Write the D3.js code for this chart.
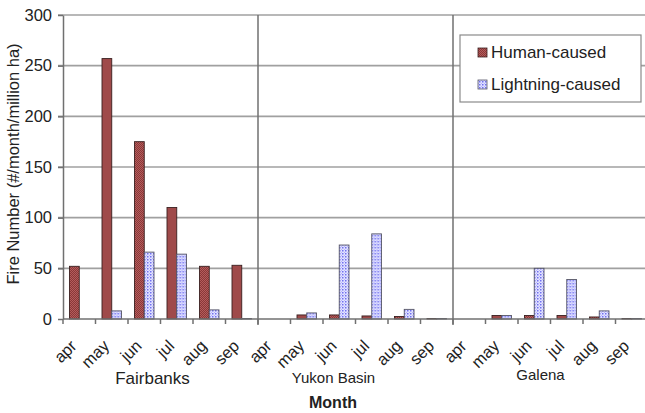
<!DOCTYPE html>
<html>
<head>
<meta charset="utf-8">
<script src="https://cdn.jsdelivr.net/npm/d3@7"></script>
<style>
  html, body { margin: 0; padding: 0; background: #fff; }
  svg { display: block; font-family: "Liberation Sans", Arial, sans-serif; }
</style>
</head>
<body>
<svg id="chart" width="645" height="413"></svg>
<script>
// ---- data ----
const regions = ["Fairbanks", "Yukon Basin", "Galena"];
const months = ["apr", "may", "jun", "jul", "aug", "sep"];
const humanFairbanks = [52, 257, 175, 110, 52, 53];
const humanYukon = [0, 4, 4, 3, 2.5, 0.5];
const humanGalena = [0, 3.5, 3.5, 3.5, 2, 0.5];
const lightningFairbanks = [0, 8, 66, 64, 9, 0.5];
const lightningYukon = [0, 6, 73, 84, 9.5, 0.5];
const lightningGalena = [0, 3.5, 50, 39, 8, 0.5];
const yTicks = [0, 50, 100, 150, 200, 250, 300];
const seriesNames = ["Human-caused", "Lightning-caused"];
const yTitle = "Fire Number (#/month/million ha)";
const xTitle = "Month";

(function () {
const humanAll = [humanFairbanks, humanYukon, humanGalena];
const lightningAll = [lightningFairbanks, lightningYukon, lightningGalena];

const rows = [];
regions.forEach((r, ri) => {
  months.forEach((m, mi) => {
    rows.push({ key: r + "-" + m, region: r, ri, month: m, human: humanAll[ri][mi], lightning: lightningAll[ri][mi] });
  });
});

// ---- layout ----
const svg = d3.select("#chart");
const pLeft = 63, pRight = 648, pTop = 15, pBottom = 319;

const x = d3.scaleBand().domain(rows.map(d => d.key)).range([pLeft, pRight]).paddingInner(0).paddingOuter(0);
const y = d3.scaleLinear().domain([0, 300]).range([pBottom, pTop]);
const sub = d3.scaleBand().domain(seriesNames).range([x.bandwidth() / 2 - 9.75, x.bandwidth() / 2 + 9.75]);

// patterns
const defs = svg.append("defs");
const ph = defs.append("pattern").attr("id", "pHuman").attr("patternUnits", "userSpaceOnUse").attr("width", 2).attr("height", 2);
ph.append("rect").attr("width", 2).attr("height", 2).attr("fill", "#b45c5c");
ph.append("rect").attr("width", 1).attr("height", 1).attr("fill", "#8a3838");
ph.append("rect").attr("x", 1).attr("y", 1).attr("width", 1).attr("height", 1).attr("fill", "#8a3838");
const pl = defs.append("pattern").attr("id", "pLight").attr("patternUnits", "userSpaceOnUse").attr("width", 3).attr("height", 3);
pl.append("rect").attr("width", 3).attr("height", 3).attr("fill", "#e0e0ff");
pl.append("rect").attr("x", 1).attr("y", 1).attr("width", 1.5).attr("height", 1.5).attr("fill", "#7070f0");
pl.append("rect").attr("x", 0).attr("y", 0).attr("width", 0.8).attr("height", 0.8).attr("fill", "#a0a0f8");

// gridlines
svg.append("g").selectAll("line").data(yTicks.filter(t => t > 0)).join("line")
  .attr("x1", 58).attr("x2", 645)
  .attr("y1", d => y(d)).attr("y2", d => y(d))
  .attr("stroke", "#a0a0a0").attr("stroke-width", 1.6);

// y axis
const yAxis = svg.append("g").attr("transform", `translate(${pLeft},0)`)
  .call(d3.axisLeft(y).tickValues(yTicks).tickSize(5).tickPadding(6).tickSizeOuter(0));
yAxis.select(".domain").attr("stroke", "#707070").attr("stroke-width", 1.5);
yAxis.selectAll(".tick line").attr("stroke", "#707070").attr("stroke-width", 1.5);
yAxis.selectAll(".tick text").attr("font-size", "16.5px").attr("fill", "#222")
  .attr("font-family", "Liberation Sans, Arial, sans-serif");

// bars
const barG = svg.append("g");
const grp = barG.selectAll("g").data(rows).join("g").attr("transform", d => `translate(${x(d.key)},0)`);
grp.append("rect")
  .attr("x", sub("Human-caused")).attr("width", sub.bandwidth())
  .attr("y", d => y(d.human)).attr("height", d => y(0) - y(d.human))
  .attr("fill", "url(#pHuman)").attr("stroke", "#3a2020").attr("stroke-width", 0.9)
  .attr("visibility", d => d.human > 0 ? "visible" : "hidden");
grp.append("rect")
  .attr("x", sub("Lightning-caused")).attr("width", sub.bandwidth())
  .attr("y", d => y(d.lightning)).attr("height", d => y(0) - y(d.lightning))
  .attr("fill", "url(#pLight)").attr("stroke", "#555566").attr("stroke-width", 0.9)
  .attr("visibility", d => d.lightning > 0 ? "visible" : "hidden");

// x axis line
svg.append("line").attr("x1", pLeft).attr("x2", 645).attr("y1", pBottom).attr("y2", pBottom)
  .attr("stroke", "#707070").attr("stroke-width", 1.5);
// category boundary ticks
const boundaries = rows.map(d => x(d.key)).concat([pRight]);
svg.append("g").selectAll("line").data(boundaries).join("line")
  .attr("x1", d => d).attr("x2", d => d).attr("y1", pBottom).attr("y2", pBottom + 5)
  .attr("stroke", "#707070").attr("stroke-width", 1.5);
// region separators
svg.append("g").selectAll("line").data(regions.slice(1)).join("line")
  .attr("x1", d => x(d + "-apr")).attr("x2", d => x(d + "-apr"))
  .attr("y1", pTop).attr("y2", pBottom + 6)
  .attr("stroke", "#707070").attr("stroke-width", 1.5);

// month labels
svg.append("g").selectAll("text").data(rows).join("text")
  .attr("transform", d => `translate(${x(d.key) + x.bandwidth() / 2 - 1.5},347) rotate(-45)`)
  .attr("text-anchor", "end").attr("font-size", "16.5px").attr("fill", "#222")
  .text(d => d.month);

// region labels
const regionLabelPos = [
  { name: regions[0], dx: -8, y: 384, size: 17 },
  { name: regions[1], dx: -22, y: 383, size: 15 },
  { name: regions[2], dx: -10, y: 380, size: 15 }
];
svg.append("g").selectAll("text").data(regionLabelPos).join("text")
  .attr("x", d => (x(d.name + "-apr") + x(d.name + "-sep") + x.bandwidth()) / 2 + d.dx)
  .attr("y", d => d.y)
  .attr("text-anchor", "middle").attr("font-size", d => d.size + "px").attr("fill", "#222")
  .text(d => d.name);

// axis titles
svg.append("text").attr("x", 333).attr("y", 408).attr("text-anchor", "middle")
  .attr("font-size", "16px").attr("font-weight", "bold").attr("fill", "#222").text(xTitle);
svg.append("text").attr("transform", "translate(19,164) rotate(-90)").attr("text-anchor", "middle")
  .attr("font-size", "16.5px").attr("fill", "#222").text(yTitle);

// legend
const lg = svg.append("g");
lg.append("rect").attr("x", 460).attr("y", 35).attr("width", 181).attr("height", 67)
  .attr("fill", "#fff").attr("stroke", "#8a8a8a").attr("stroke-width", 1.2);
const items = lg.selectAll("g").data(seriesNames).join("g")
  .attr("transform", (d, i) => `translate(478,${48 + i * 32})`);
items.append("rect").attr("width", 9).attr("height", 9)
  .attr("fill", (d, i) => i === 0 ? "url(#pHuman)" : "url(#pLight)")
  .attr("stroke", (d, i) => i === 0 ? "#3a2020" : "#555566").attr("stroke-width", 0.8);
items.append("text").attr("x", 13).attr("y", 9.5).attr("font-size", "17px").attr("fill", "#222").text(d => d);
})();
</script>
</body>
</html>
